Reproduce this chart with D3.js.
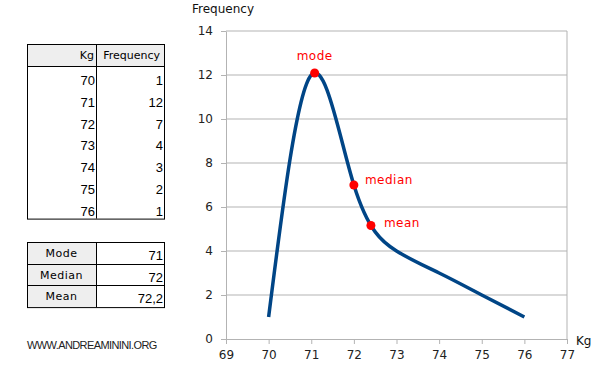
<!DOCTYPE html>
<html>
<head>
<meta charset="utf-8">
<script src="https://cdn.jsdelivr.net/npm/d3@7"></script>
<style>
  body { margin: 0; background: #fff; }
  svg { display: block; font-family: "DejaVu Sans", sans-serif; }
  .num { font-family: "Liberation Sans", Arial, sans-serif; font-size: 13px; }
</style>
</head>
<body>
<svg id="chart" width="600" height="392"></svg>
<script>
// frequency table
const kg = [70, 71, 72, 73, 74, 75, 76];
const frequency = [1, 12, 7, 4, 3, 2, 1];

// summary table
const statNames = ['Mode', 'Median', 'Mean'];
const statValues = ['71', '72', '72,2'];

// marked points on the curve (as drawn)
const markLabels = ['mode', 'median', 'mean'];
const markX = [71.08, 72.0, 72.4];
const markY = [12.09, 7.0, 5.16];

const xTicks = [69, 70, 71, 72, 73, 74, 75, 76, 77];
const yTicks = [0, 2, 4, 6, 8, 10, 12, 14];

const svg = d3.select('#chart');

const x = d3.scaleLinear().domain([69, 77]).range([226, 567]);
const y = d3.scaleLinear().domain([0, 14]).range([339, 31]);

// grid
svg.append('g').selectAll('line')
    .data(yTicks.slice(1))
    .enter().append('line')
      .attr('x1', x(69)).attr('x2', x(77))
      .attr('y1', d => y(d)).attr('y2', d => y(d))
      .attr('stroke', '#b3b3b3');

svg.append('line')
    .attr('x1', x(77)).attr('x2', x(77))
    .attr('y1', y(0)).attr('y2', y(14))
    .attr('stroke', '#b3b3b3');

// axes
const xAxis = svg.append('g')
    .attr('transform', 'translate(0,' + y(0) + ')')
    .call(d3.axisBottom(x).tickValues(xTicks).tickSize(5).tickPadding(6).tickSizeOuter(0));

const yAxis = svg.append('g')
    .attr('transform', 'translate(' + x(69) + ',0)')
    .call(d3.axisLeft(y).tickValues(yTicks).tickSize(5).tickPadding(8).tickSizeOuter(0));

[xAxis, yAxis].forEach(function(a) {
  a.select('.domain').attr('stroke', '#b3b3b3');
  a.selectAll('.tick line').attr('stroke', '#b3b3b3');
  a.selectAll('.tick text')
      .attr('fill', '#222')
      .style('font-family', '"DejaVu Sans", sans-serif')
      .style('font-size', '12px');
});

svg.append('text')
    .attr('x', 192).attr('y', 13)
    .style('font-size', '12px').attr('fill', '#111')
    .text('Frequency');

svg.append('text')
    .attr('x', 576).attr('y', 345)
    .style('font-size', '12px').attr('fill', '#111')
    .text('Kg');

// curve (natural cubic spline, like the spreadsheet's smoothing)
const pts = kg.map((k, i) => [k, frequency[i]]);
const line = d3.line()
    .x(d => x(d[0]))
    .y(d => y(d[1]))
    .curve(d3.curveNatural);

svg.append('path')
    .attr('d', line(pts))
    .attr('fill', 'none')
    .attr('stroke', '#004586')
    .attr('stroke-width', 3.5);

// marked points
const marks = markLabels.map((m, i) => ({ label: m, x: markX[i], y: markY[i] }));
const labelDx = [0, 11, 13];
const labelDy = [-13, -1, 1.5];

svg.append('g').selectAll('circle')
    .data(marks)
    .enter().append('circle')
      .attr('cx', d => x(d.x))
      .attr('cy', d => y(d.y))
      .attr('r', 4.5)
      .attr('fill', '#ff0000');

svg.append('g').selectAll('text')
    .data(marks)
    .enter().append('text')
      .attr('x', (d, i) => x(d.x) + labelDx[i])
      .attr('y', (d, i) => y(d.y) + labelDy[i])
      .attr('text-anchor', (d, i) => i === 0 ? 'middle' : 'start')
      .attr('fill', '#ff0000')
      .style('font-size', '12px')
      .style('letter-spacing', '0.5px')
      .text(d => d.label);

// frequency table
const t1 = svg.append('g');
const tx0 = 27, tx1 = 96, tx2 = 164;
const ty0 = 44, headH = 22, rowH = 21.8;
const tBottom = ty0 + headH + rowH * kg.length;

t1.append('rect')
    .attr('x', tx0).attr('y', ty0)
    .attr('width', tx2 - tx0).attr('height', headH)
    .attr('fill', '#eeeeee');

t1.append('rect')
    .attr('x', tx0 + 0.5).attr('y', ty0 + 0.5)
    .attr('width', tx2 - tx0).attr('height', tBottom - ty0)
    .attr('fill', 'none').attr('stroke', '#000');

t1.append('line')
    .attr('x1', tx0).attr('x2', tx2)
    .attr('y1', ty0 + headH + 0.5).attr('y2', ty0 + headH + 0.5)
    .attr('stroke', '#000');

t1.append('line')
    .attr('x1', tx1 + 0.5).attr('x2', tx1 + 0.5)
    .attr('y1', ty0).attr('y2', tBottom)
    .attr('stroke', '#000');

t1.append('text').attr('x', tx1 - 2).attr('y', ty0 + 15)
    .attr('text-anchor', 'end').style('font-size', '11px').text('Kg');
t1.append('text').attr('x', tx2 - 4).attr('y', ty0 + 15)
    .attr('text-anchor', 'end').style('font-size', '11px').text('Frequency');

t1.selectAll('.kg')
    .data(kg)
    .enter().append('text')
      .attr('class', 'kg num')
      .attr('x', tx1 - 1)
      .attr('y', (d, i) => ty0 + headH + rowH * i + 19)
      .attr('text-anchor', 'end')
      .text(d => d);

t1.selectAll('.fr')
    .data(frequency)
    .enter().append('text')
      .attr('class', 'fr num')
      .attr('x', tx2 - 1)
      .attr('y', (d, i) => ty0 + headH + rowH * i + 19)
      .attr('text-anchor', 'end')
      .text(d => d);

// summary table
const t2 = svg.append('g');
const sy0 = 242, sRowH = 21.7;

t2.selectAll('.hd')
    .data(statNames)
    .enter().append('rect')
      .attr('class', 'hd')
      .attr('x', tx0).attr('y', (d, i) => sy0 + sRowH * i)
      .attr('width', tx1 - tx0).attr('height', sRowH)
      .attr('fill', '#eeeeee');

t2.append('rect')
    .attr('x', tx0 + 0.5).attr('y', sy0 + 0.5)
    .attr('width', tx2 - tx0).attr('height', sRowH * statNames.length)
    .attr('fill', 'none').attr('stroke', '#000');

t2.selectAll('.rl')
    .data(statNames.slice(1))
    .enter().append('line')
      .attr('class', 'rl')
      .attr('x1', tx0).attr('x2', tx2)
      .attr('y1', (d, i) => Math.round(sy0 + sRowH * (i + 1)) + 0.5)
      .attr('y2', (d, i) => Math.round(sy0 + sRowH * (i + 1)) + 0.5)
      .attr('stroke', '#000');

t2.append('line')
    .attr('x1', tx1 + 0.5).attr('x2', tx1 + 0.5)
    .attr('y1', sy0).attr('y2', sy0 + sRowH * statNames.length)
    .attr('stroke', '#000');

t2.selectAll('.sn')
    .data(statNames)
    .enter().append('text')
      .attr('class', 'sn')
      .attr('x', (tx0 + tx1) / 2)
      .attr('y', (d, i) => sy0 + sRowH * i + 15)
      .attr('text-anchor', 'middle')
      .style('font-size', '11px')
      .style('letter-spacing', '0.5px')
      .text(d => d);

t2.selectAll('.sv')
    .data(statValues)
    .enter().append('text')
      .attr('class', 'sv num')
      .attr('x', tx2 - 1)
      .attr('y', (d, i) => sy0 + sRowH * i + 18)
      .attr('text-anchor', 'end')
      .text(d => d);

svg.append('text')
    .attr('x', 27).attr('y', 349)
    .style('font-family', '"Liberation Sans", Arial, sans-serif')
    .style('font-size', '11px')
    .style('letter-spacing', '-0.6px')
    .attr('fill', '#222')
    .text('WWW.ANDREAMININI.ORG');
</script>
</body>
</html>
